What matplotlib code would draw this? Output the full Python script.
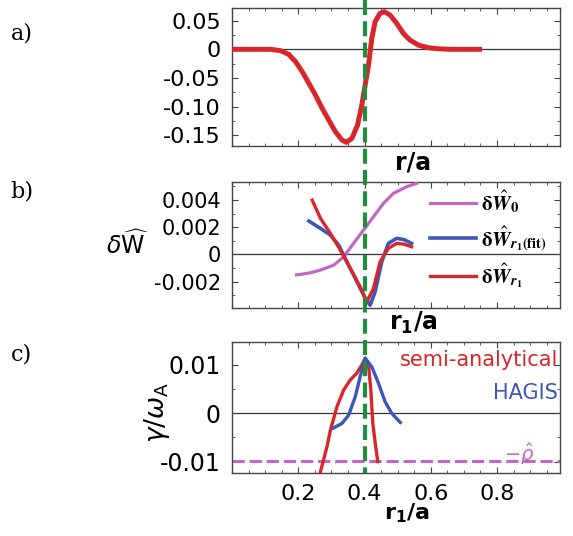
#!/usr/bin/env python3
"""Three stacked panels: eigenfunction, delta-W terms and growth rate vs r/a."""

import matplotlib
matplotlib.use("Agg")
import matplotlib.pyplot as plt
import matplotlib.transforms as mtransforms
from matplotlib.lines import Line2D
from matplotlib.ticker import MultipleLocator

# ---- data ----
# a) radial displacement
r_a = [0.0, 0.05, 0.10, 0.117, 0.147, 0.171, 0.192, 0.212, 0.232, 0.252, 0.272,
       0.292, 0.312, 0.332, 0.345, 0.362, 0.379, 0.392, 0.402, 0.412, 0.422,
       0.432, 0.447, 0.46, 0.477, 0.497, 0.517, 0.537, 0.562, 0.592, 0.622,
       0.66, 0.70, 0.755]
xi_a = [0.0, 0.0, 0.0, 0.0, -0.0024, -0.0088, -0.0216, -0.039, -0.0595, -0.080,
        -0.103, -0.1236, -0.144, -0.1586, -0.1626, -0.1556, -0.1323, -0.097,
        -0.062, -0.0274, 0.0192, 0.0483, 0.063, 0.0657, 0.060, 0.0455, 0.028,
        0.0163, 0.0075, 0.0028, 0.001, 0.0, 0.0, 0.0]

# b) delta W contributions
r_w0 = [0.195, 0.207, 0.237, 0.267, 0.307, 0.337, 0.367, 0.397, 0.427, 0.457,
        0.487, 0.527, 0.557]
w0 = [-0.0015, -0.00147, -0.00135, -0.00115, -0.00079, -0.00018, 0.00081,
      0.00179, 0.00276, 0.00375, 0.00448, 0.00497, 0.00522]
r_fit = [0.232, 0.267, 0.297, 0.322, 0.347, 0.377, 0.402, 0.417, 0.432, 0.452,
         0.472, 0.497, 0.52, 0.542]
w_fit = [0.00245, 0.00191, 0.00142, 0.00068, -0.00054, -0.002, -0.00323,
         -0.00373, -0.00275, -0.00054, 0.00081, 0.00118, 0.00108, 0.00081]
r_r1 = [0.242, 0.267, 0.297, 0.327, 0.357, 0.387, 0.407, 0.427, 0.447, 0.472,
        0.497, 0.52, 0.542]
w_r1 = [0.00399, 0.00265, 0.00154, 0.00032, -0.00103, -0.00238, -0.00348,
        -0.0025, -0.00054, 0.00044, 0.00081, 0.00075, 0.00056]

# c) growth rate
r_semi = [0.258, 0.265, 0.287, 0.297, 0.317, 0.337, 0.357, 0.377, 0.392, 0.402,
          0.412, 0.419, 0.425, 0.432, 0.44]
g_semi = [-0.0140, -0.0126, -0.0068, -0.0035, 0.0014, 0.0048, 0.0069, 0.0083,
          0.0100, 0.0114, 0.0100, 0.0048, -0.0021, -0.0060, -0.0100]
r_hagis = [0.305, 0.332, 0.352, 0.372, 0.387, 0.402, 0.422, 0.442, 0.462,
           0.482, 0.508]
g_hagis = [-0.0031, -0.0021, -0.0004, 0.0034, 0.0076, 0.0114, 0.0096, 0.0062,
           0.0024, 0.0, -0.0019]
rho_hat = -0.0099
r_res = 0.40

x_ticks = [0.2, 0.4, 0.6, 0.8]

RED = '#d8262a'
BLUE = '#3f55b8'
MAGENTA = '#c466c4'
GREEN = '#1f8f3f'
GRID = '#444444'

plt.rcParams['font.family'] = ['DejaVu Sans']
plt.rcParams['mathtext.fontset'] = 'dejavusans'

fig = plt.figure(figsize=(5.73, 5.36), dpi=100)
fig.patch.set_facecolor('white')

ax_a = fig.add_axes([0.4049, 0.7276, 0.5724, 0.2569])
ax_b = fig.add_axes([0.4049, 0.4248, 0.5724, 0.2362])
ax_c = fig.add_axes([0.4049, 0.1181, 0.5724, 0.2444])


def style(ax, fs):
    ax.set_xlim(0, 0.99)
    ax.xaxis.set_major_locator(MultipleLocator(0.2))
    ax.xaxis.set_minor_locator(MultipleLocator(0.05))
    ax.tick_params(which='both', direction='in', top=True, right=True,
                   color=GRID, labelsize=fs, pad=8)
    ax.tick_params(which='major', length=4, width=0.8)
    ax.tick_params(which='minor', length=2, width=0.6)
    for s in ax.spines.values():
        s.set_color(GRID)
        s.set_linewidth(1.0)
    ax.axhline(0, color='#333333', lw=0.9, zorder=1)


# ---- a) ----
style(ax_a, 16)
ax_a.plot(r_a, xi_a, color=RED, lw=3.6, solid_capstyle='butt',
          solid_joinstyle='round', zorder=3)
ax_a.set_ylim(-0.169, 0.0717)
ax_a.set_yticks([0.05, 0, -0.05, -0.10, -0.15])
ax_a.set_yticklabels(['0.05', '0', '-0.05', '-0.10', '-0.15'])
ax_a.yaxis.set_minor_locator(MultipleLocator(0.025))
ax_a.tick_params(axis='x', labelbottom=False)
ax_a.text(0.552, -0.123, 'r/a', transform=ax_a.transAxes, ha='center',
          va='center', fontsize=17, fontweight='bold')

# ---- b) ----
style(ax_b, 15)
ln0, = ax_b.plot(r_w0, w0, color=MAGENTA, lw=2.3, zorder=3,
                 solid_joinstyle='round')
lnf, = ax_b.plot(r_fit, w_fit, color=BLUE, lw=2.6, zorder=3,
                 solid_joinstyle='round')
lnr, = ax_b.plot(r_r1, w_r1, color=RED, lw=2.4, zorder=4,
                 solid_joinstyle='round')
ax_b.set_ylim(-0.00396, 0.00534)
ax_b.set_yticks([0.004, 0.002, 0, -0.002])
ax_b.set_yticklabels(['0.004', '0.002', '0', '-0.002'])
ax_b.yaxis.set_minor_locator(MultipleLocator(0.001))
ax_b.tick_params(axis='x', labelbottom=False)
ax_b.text(0.552, -0.116, r'$\mathbf{r_1/a}$', transform=ax_b.transAxes,
          ha='center', va='center', fontsize=17)
ax_b.text(-0.318, 0.50, r'$\delta\widehat{\mathrm{W}}$', transform=ax_b.transAxes,
          ha='center', va='center', fontsize=17)
leg = ax_b.legend([ln0, lnf, lnr],
                  [r'$\mathbf{\delta}\hat{\mathbfit{W}}_{\mathbf{0}}$',
                   r'$\mathbf{\delta}\hat{\mathbfit{W}}_{\mathbfit{r}_{\mathbf{1}}\mathbf{(fit)}}$',
                   r'$\mathbf{\delta}\hat{\mathbfit{W}}_{\mathbfit{r}_{\mathbf{1}}}$'],
                  loc='upper left', bbox_to_anchor=(0.605, 0.95), frameon=False,
                  prop={'size': 15, 'math_fontfamily': 'stix'},
                  handlelength=2.2, handletextpad=0.25, labelspacing=0.42,
                  borderaxespad=0.0, borderpad=0.0)

# ---- c) ----
style(ax_c, 16)
ax_c.plot(r_semi, g_semi, color=RED, lw=2.4, zorder=3, solid_joinstyle='round')
ax_c.plot(r_hagis, g_hagis, color=BLUE, lw=2.4, zorder=3, solid_joinstyle='round')
ax_c.axhline(rho_hat, color=MAGENTA, lw=2.2, dashes=(4, 1.6), zorder=2)
ax_c.set_ylim(-0.0123, 0.0148)
ax_c.set_yticks([0.01, 0, -0.01])
ax_c.set_yticklabels(['0.01', '0', '-0.01'])
ax_c.yaxis.set_minor_locator(MultipleLocator(0.005))
ax_c.set_xticks(x_ticks)
ax_c.set_xticklabels(['0.2', '0.4', '0.6', '0.8'])
ax_c.tick_params(axis='x', pad=8)
ax_c.tick_params(axis='y', labelsize=17)
ax_c.text(0.535, -0.31, r'$\mathbf{r_1/a}$', transform=ax_c.transAxes,
          ha='center', va='center', fontsize=16)
ax_c.text(-0.229, 0.46, r'$\gamma/\omega_{\mathrm{A}}$', transform=ax_c.transAxes,
          ha='center', va='center', fontsize=19, rotation=90)
ax_c.text(0.995, 0.86, 'semi-analytical', transform=ax_c.transAxes, ha='right',
          va='center', fontsize=15, color=RED)
ax_c.text(0.995, 0.61, 'HAGIS', transform=ax_c.transAxes, ha='right',
          va='center', fontsize=15, color=BLUE)
ax_c.text(0.875, 0.14, r'$-\hat{\rho}$', transform=ax_c.transAxes, ha='center',
          va='center', fontsize=14, color=MAGENTA)

# resonance position, drawn through all three panels
trans = mtransforms.blended_transform_factory(ax_c.transData, fig.transFigure)
fig.add_artist(Line2D([r_res, r_res], [1.0, 0.1181], transform=trans,
                      color=GREEN, lw=3.0, dashes=(3.6, 1.5), zorder=10))

# panel tags
for tag, y in [('a)', 0.938), ('b)', 0.642), ('c)', 0.338)]:
    fig.text(0.038, y, tag, fontsize=16, family='DejaVu Serif', va='center',
             ha='center')

fig.savefig('out.png', dpi=100, facecolor='white')
print("Wrote file: out.png")
